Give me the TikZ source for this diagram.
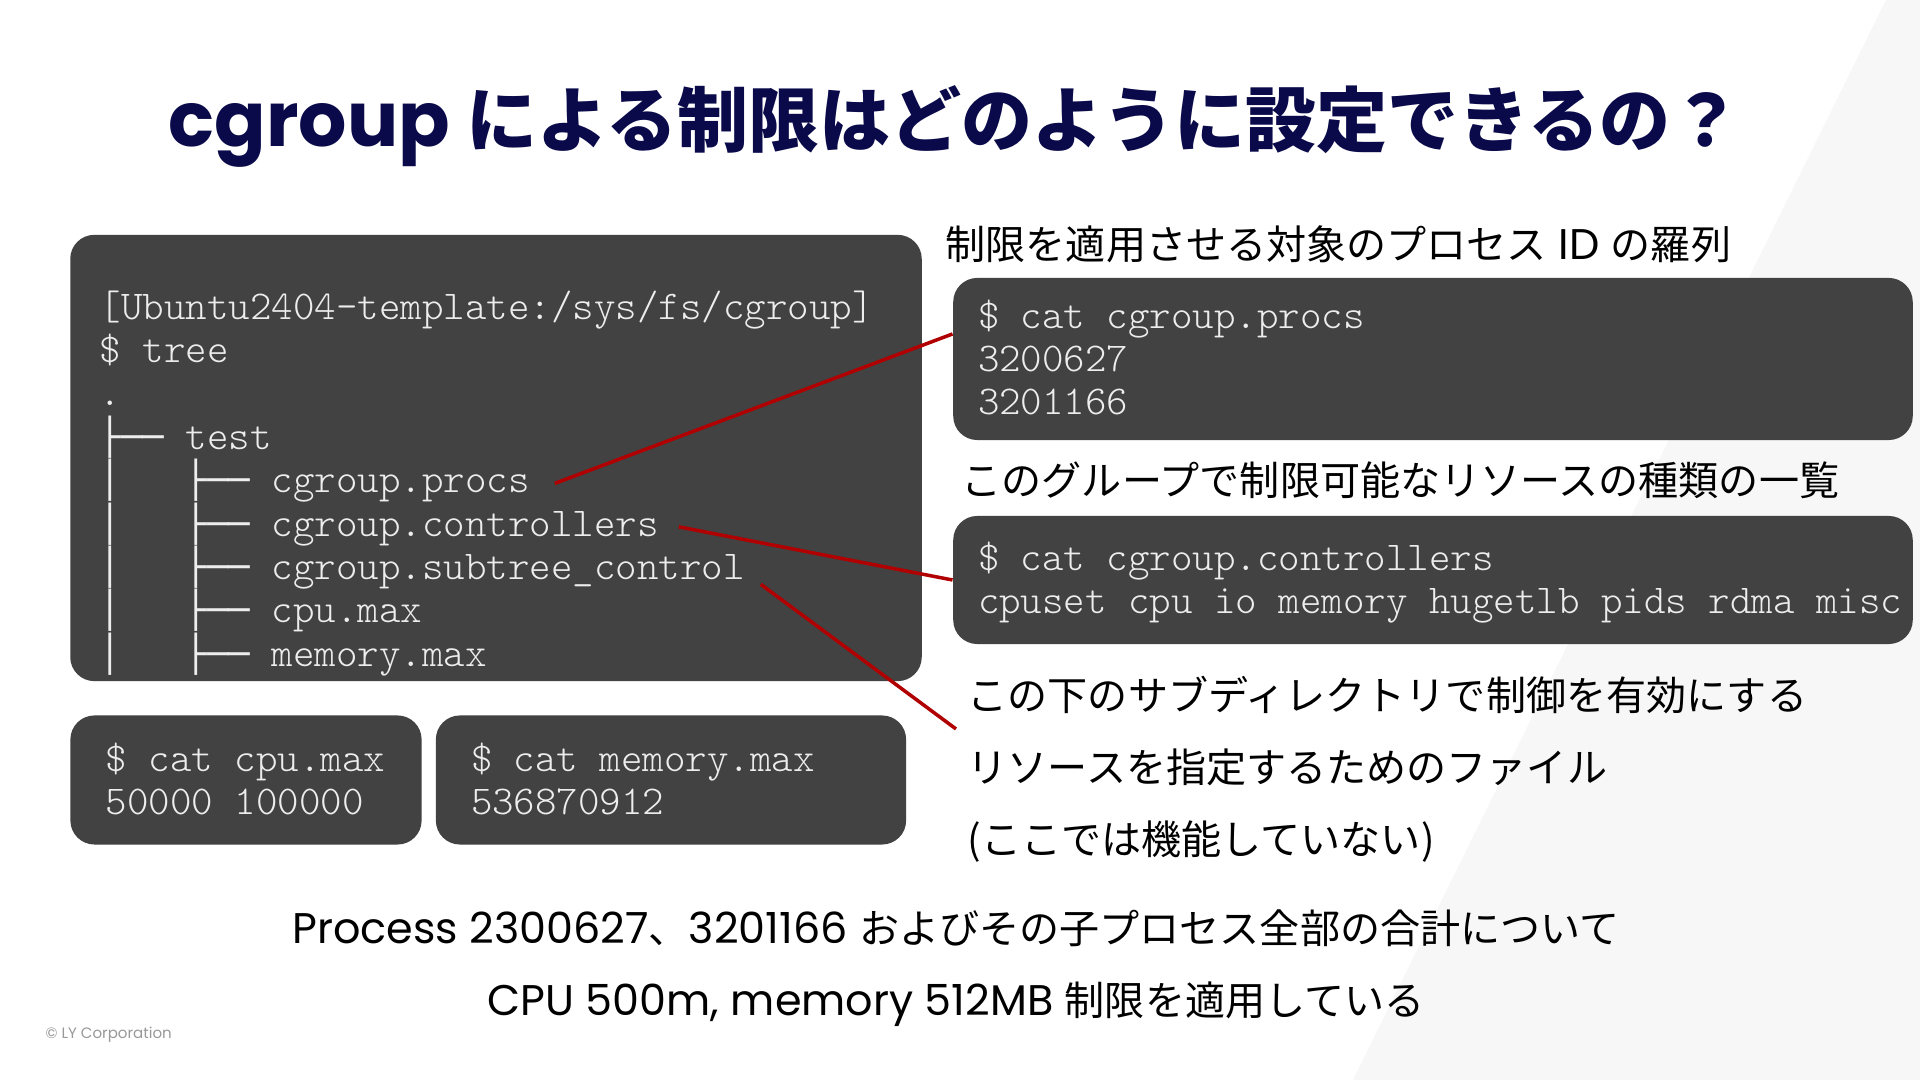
\documentclass[tikz,border=0pt]{standalone}
\usepackage{fontspec}
\setmainfont{Noto Sans CJK JP}
\newfontfamily\latn{Poppins}[Scale=1.07]
\newfontfamily\codefont{lmmonolt10-regular.otf}
\newfontfamily\treefont{DejaVu Sans Mono}[Scale=0.872]
\usetikzlibrary{positioning,calc}

\definecolor{ttlnavy}{HTML}{0A0A4A}
\definecolor{termbg}{HTML}{424242}
\definecolor{termfg}{HTML}{EDEDED}
\definecolor{linkred}{HTML}{B00000}
\definecolor{slantbg}{HTML}{F7F7F8}

\newcommand{\tb}[1]{{\treefont #1}}
\newcommand{\leaf}[1]{\tb{│}\ \ \ \tb{├──}\ #1}

\begin{document}
\begin{tikzpicture}[x=0.01cm,y=-0.01cm,
      term/.style={rectangle,fill=termbg,rounded corners=0.24cm,inner sep=0pt},
      code/.style={font=\codefont\fontsize{11.64pt}{13pt}\selectfont,text=termfg,inner sep=0pt,outer sep=0pt,text height=0.31cm,text depth=0.124cm,anchor=north west},
      nextl/.style={below=0pt of #1.south west,anchor=north west},
      note/.style={font=\fontsize{11.4pt}{20.5pt}\selectfont,inner sep=0pt,anchor=west,align=left},
      link/.style={draw=linkred,line width=1pt}
    ]

    % background
    \fill[white] (0,0) rectangle (1920,1080);
    \fill[slantbg] (1886,0) -- (1920,0) -- (1920,1080) -- (1353,1080) -- cycle;

    \node[font=\bfseries\fontsize{20.2pt}{22pt}\selectfont,text=ttlnavy] (title) at (955,126) {{\latn\bfseries cgroup }による制限はどのように設定できるの？};

    % tree
    \node[term,minimum width=8.51cm,minimum height=4.46cm] (treebox) at (496,458) {};
    \node[code] (t1) at (100,288) {[Ubuntu2404-template:/sys/fs/cgroup]};
    \node[code,nextl=t1] (t2) {\$ tree};
    \node[code,nextl=t2] (t3) {.};
    \node[code,nextl=t3] (t4) {\tb{├──}\ test};
    \node[code,nextl=t4] (t5) {\leaf{cgroup.procs}};
    \node[code,nextl=t5] (t6) {\leaf{cgroup.controllers}};
    \node[code,nextl=t6] (t7) {\leaf{cgroup.subtree\_control}};
    \node[code,nextl=t7] (t8) {\leaf{cpu.max}};
    \node[code,nextl=t8] (t9) {\leaf{memory.max}};

    % cpu.max / memory.max
    \node[term,minimum width=3.51cm,minimum height=1.29cm] (cpubox) at (246,780) {};
    \node[code] (m1) at (106,740) {\$ cat cpu.max};
    \node[code,nextl=m1] (m2) {50000 100000};
    \node[term,minimum width=4.70cm,minimum height=1.29cm] (membox) at (671,780) {};
    \node[code] (n1) at (471,740) {\$ cat memory.max};
    \node[code,nextl=n1] (n2) {536870912};

    % cgroup.procs
    \node[note] (proctitle) at (945,244) {制限を適用させる対象のプロセス{\latn\ ID }の羅列};
    \node[term,minimum width=9.59cm,minimum height=1.62cm] (procbox) at (1433,359) {};
    \node[code] (p1) at (978,297) {\$ cat cgroup.procs};
    \node[code,nextl=p1] (p2) {3200627};
    \node[code,nextl=p2] (p3) {3201166};

    % cgroup.controllers
    \node[note] (ctrltitle) at (961,480) {このグループで制限可能なリソースの種類の一覧};
    \node[term,minimum width=9.59cm,minimum height=1.28cm] (ctrlbox) at (1433,580) {};
    \node[code] (c1) at (978,539) {\$ cat cgroup.controllers};
    \node[code,nextl=c1] (c2) {cpuset cpu io memory hugetlb pids rdma misc};

    \node[note] (subnote) at (967,769) {この下のサブディレクトリで制御を有効にする\\リソースを指定するためのファイル\\(ここでは機能していない)};

    \draw[link] ([xshift=0.25cm]t5.east) -- ([yshift=0.25cm]procbox.west);
    \draw[link] ([xshift=0.2cm]t6.east) -- (ctrlbox.west);
    \draw[link] ([xshift=0.16cm,yshift=-0.14cm]t7.east) -- ([shift={(-0.11cm,0.4cm)}]subnote.west);

    \node[font=\fontsize{11.4pt}{20.5pt}\selectfont,align=center] (summary) at (956,968) {{\latn Process 2300627}、{\latn 3201166 }およびその子プロセス全部の合計について\\{\latn CPU 500m, memory 512MB }制限を適用している};

    \node[font=\latn\fontsize{4pt}{5pt}\selectfont,text=black!40,anchor=west,inner sep=0pt] (copy) at (45,1035) {© LY Corporation};

  \end{tikzpicture}
\end{document}
